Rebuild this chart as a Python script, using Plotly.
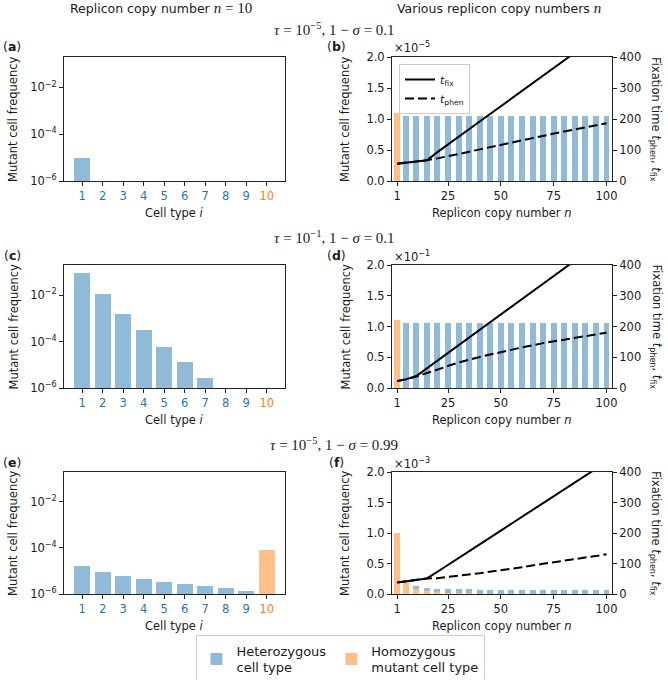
import plotly.graph_objects as go

# ---------------- data ----------------
cell_types = [1, 2, 3, 4, 5, 6, 7, 8, 9, 10]
cell_labels = ["1", "2", "3", "4", "5", "6", "7", "8", "9", "10"]

# left column: mutant cell frequency per cell type (n = 10)
freq_a = [1.0e-5, 1.0e-10, 1.0e-15, 1.0e-20, 1.0e-25, 1.0e-30, 1.0e-35, 1.0e-40, 1.0e-45, 1.0e-50]
freq_c = [9.1e-2, 1.18e-2, 1.6e-3, 3.1e-4, 5.7e-5, 1.3e-5, 2.7e-6, 5.0e-7, 8.0e-8, 1.0e-8]
freq_e = [1.65e-5, 9.3e-6, 5.8e-6, 4.4e-6, 3.4e-6, 2.8e-6, 2.3e-6, 1.9e-6, 1.35e-6, 8.5e-5]

# right column: bars vs replicon copy number n
n_bars = [1, 5, 10, 15, 20, 25, 30, 35, 40, 45, 50, 55, 60, 65, 70, 75, 80, 85, 90, 95, 100]
het_b = [0, 1.05e-5, 1.05e-5, 1.05e-5, 1.05e-5, 1.05e-5, 1.05e-5, 1.05e-5, 1.05e-5, 1.05e-5, 1.05e-5,
         1.05e-5, 1.05e-5, 1.05e-5, 1.05e-5, 1.05e-5, 1.05e-5, 1.05e-5, 1.05e-5, 1.05e-5, 1.05e-5]
hom_b = [1.10e-5, 0, 0, 0, 0, 0, 0, 0, 0, 0, 0, 0, 0, 0, 0, 0, 0, 0, 0, 0, 0]
het_d = [0, 0.105, 0.105, 0.105, 0.105, 0.105, 0.105, 0.105, 0.105, 0.105, 0.105,
         0.105, 0.105, 0.105, 0.105, 0.105, 0.105, 0.105, 0.105, 0.105, 0.105]
hom_d = [0.111, 0, 0, 0, 0, 0, 0, 0, 0, 0, 0, 0, 0, 0, 0, 0, 0, 0, 0, 0, 0]
het_f = [0, 0.0, 0.054e-3, 0.054e-3, 0.054e-3, 0.060e-3, 0.062e-3, 0.065e-3, 0.066e-3, 0.067e-3, 0.068e-3,
         0.068e-3, 0.069e-3, 0.069e-3, 0.070e-3, 0.070e-3, 0.070e-3, 0.070e-3, 0.070e-3, 0.070e-3, 0.070e-3]
hom_f = [1.0e-3, 0.20e-3, 0.082e-3, 0.049e-3, 0.033e-3, 0.022e-3, 0.015e-3, 0.010e-3, 0.007e-3, 0.005e-3, 0.004e-3,
         0.003e-3, 0.002e-3, 0.002e-3, 0.001e-3, 0.001e-3, 0.001e-3, 0.001e-3, 0.001e-3, 0.001e-3, 0.001e-3]

# fixation times
n_line = [1, 5, 10, 15, 20, 25, 30, 40, 50, 60, 70, 80, 90, 100]
tfix_b = [56, 59, 62, 67, 93, 117, 142, 192, 241, 290, 340, 389, 438, 488]
tphen_b = [56, 59, 62, 67, 73, 79, 87, 102, 117, 132, 146, 160, 173, 186]
tfix_d = [23, 28, 39, 64, 89, 114, 139, 189, 239, 289, 339, 389, 439, 489]
tphen_d = [23, 28, 37, 49, 61, 73, 83, 101, 117, 132, 146, 158, 169, 180]
tfix_f = [38, 42, 46, 51, 73, 96, 118, 163, 208, 253, 298, 343, 388, 433]
tphen_f = [38, 42, 46, 51, 52, 55, 60, 68, 77, 88, 99, 109, 119, 130]

scale_exp = [-5, -1, -3]
row_titles = ["<i>τ</i> = 10<sup>−5</sup>, 1 − <i>σ</i> = 0.1",
              "<i>τ</i> = 10<sup>−1</sup>, 1 − <i>σ</i> = 0.1",
              "<i>τ</i> = 10<sup>−5</sup>, 1 − <i>σ</i> = 0.99"]
panel_letters = [("a", "b"), ("c", "d"), ("e", "f")]

# ---------------- style ----------------
W, H = 668, 680
BLUE = "rgba(31,119,180,0.5)"
ORANGE = "rgba(255,127,14,0.5)"
TXT = "#1a1a1a"
SANS = "DejaVu Sans"
SERIF = "Liberation Serif"


def px(x):
    return x / W


def py(y):
    return 1 - y / H


LX = [px(64), px(285)]
RX = [px(392), px(612)]
rows_px = [(57, 181), (265, 388), (472, 594)]

fig = go.Figure()
layout = dict(width=W, height=H, margin=dict(l=0, r=0, t=0, b=0, autoexpand=False),
              paper_bgcolor="white", plot_bgcolor="white", barmode="stack",
              font=dict(family=SANS, size=11, color=TXT), annotations=[])

left_freqs = [freq_a, freq_c, freq_e]
right_bars = [(het_b, hom_b), (het_d, hom_d), (het_f, hom_f)]
right_lines = [(tfix_b, tphen_b), (tfix_d, tphen_d), (tfix_f, tphen_f)]
tick_colors = ["#1f77b4"] * 9 + ["#ff7f0e"]
cell_ticktext = ['<span style="color:%s">%s</span>' % (c, t) for c, t in zip(tick_colors, cell_labels)]

axis_common = dict(showline=True, linecolor="#222", linewidth=1, ticks="outside", ticklen=4,
                   tickcolor="#222", showgrid=False, zeroline=False,
                   tickfont=dict(family=SANS, size=11.5, color=TXT))


def note(text, x, y, size=11, family=SANS, angle=0, xanchor="center"):
    return dict(text=text, x=px(x), y=py(y), xref="paper", yref="paper", xanchor=xanchor, yanchor="middle",
                textangle=angle, showarrow=False, font=dict(family=family, size=size, color=TXT))


ann = layout["annotations"]
for r in range(3):
    top, bot = rows_px[r]
    ydom = [py(bot), py(top)]
    lx = "x" if r == 0 else "x%d" % (2 * r + 1)
    rx = "x%d" % (2 * r + 2)
    ly = "y" if r == 0 else "y%d" % (3 * r + 1)
    ry1 = "y%d" % (3 * r + 2)
    ry2 = "y%d" % (3 * r + 3)

    def key(a):
        return a[0] + "axis" + a[1:]

    # left panel
    freqs = left_freqs[r]
    fig.add_trace(go.Bar(x=cell_types[:9], y=freqs[:9], width=0.8, marker=dict(color=BLUE, line=dict(width=0)),
                         xaxis=lx, yaxis=ly, name="Heterozygous<br>cell type", legendgroup="het",
                         showlegend=(r == 0), legendrank=1))
    fig.add_trace(go.Bar(x=cell_types[9:], y=freqs[9:], width=0.8, marker=dict(color=ORANGE, line=dict(width=0)),
                         xaxis=lx, yaxis=ly, name="Homozygous<br>mutant cell type", legendgroup="hom",
                         showlegend=(r == 0), legendrank=2))
    layout[key(lx)] = dict(axis_common, domain=LX, anchor=ly, range=[0.11, 10.89], mirror=True,
                           tickvals=cell_types, ticktext=cell_ticktext)
    layout[key(ly)] = dict(axis_common, domain=ydom, anchor=lx, type="log", range=[-6, -0.7], mirror=True,
                           tickvals=[1e-6, 1e-4, 1e-2],
                           ticktext=["10<sup>−6</sup>", "10<sup>−4</sup>", "10<sup>−2</sup>"])

    # right panel
    sc = 10.0 ** scale_exp[r]
    het, hom = right_bars[r]
    fig.add_trace(go.Bar(x=n_bars, y=[v / sc for v in hom], width=2.8, marker=dict(color=ORANGE, line=dict(width=0)),
                         xaxis=rx, yaxis=ry1, showlegend=False, legendgroup="hom"))
    fig.add_trace(go.Bar(x=n_bars, y=[v / sc for v in het], width=2.8, marker=dict(color=BLUE, line=dict(width=0)),
                         xaxis=rx, yaxis=ry1, showlegend=False, legendgroup="het"))
    tfix, tphen = right_lines[r]
    fig.add_trace(go.Scatter(x=n_line, y=tfix, mode="lines", line=dict(color="black", width=2),
                             xaxis=rx, yaxis=ry2, name="<i>t</i><sub>fix</sub>", legend="legend2",
                             showlegend=(r == 0)))
    fig.add_trace(go.Scatter(x=n_line, y=tphen, mode="lines", line=dict(color="black", width=2, dash="9px,4px"),
                             xaxis=rx, yaxis=ry2, name="<i>t</i><sub>phen</sub>", legend="legend2",
                             showlegend=(r == 0)))
    layout[key(rx)] = dict(axis_common, domain=RX, anchor=ry1, range=[-1.5, 102.6], mirror=True,
                           tickvals=[1, 25, 50, 75, 100])
    layout[key(ry1)] = dict(axis_common, domain=ydom, anchor=rx, range=[0, 2.0],
                            tickvals=[0, 0.5, 1.0, 1.5, 2.0], ticktext=["0.0", "0.5", "1.0", "1.5", "2.0"])
    layout[key(ry2)] = dict(axis_common, anchor=rx, overlaying=ry1, side="right", range=[0, 400],
                            tickvals=[0, 100, 200, 300, 400])

    ymid = (top + bot) / 2
    ann.append(note(row_titles[r], 334, top - 28, size=15, family=SERIF))
    ann.append(note("(<b>%s</b>)" % panel_letters[r][0], 12, top - 10, size=12.5))
    ann.append(note("(<b>%s</b>)" % panel_letters[r][1], 337, top - 10, size=12.5))
    ann.append(note("Mutant cell frequency", 13, ymid, size=11.5, angle=-90))
    ann.append(note("Mutant cell frequency", 345, ymid, size=11.5, angle=-90))
    ann.append(note("Fixation time <i>t</i><sub>phen</sub>, <i>t</i><sub>fix</sub>", 656, ymid, size=11.5, angle=90))
    ann.append(note("Cell type <i>i</i>", 174.5, bot + 32, size=11.5))
    ann.append(note("Replicon copy number <i>n</i>", 502, bot + 32, size=11.5))
    ann.append(note("×10<sup>−%d</sup>" % (-scale_exp[r]), 392, top - 9, size=11.5, xanchor="left"))

ann.append(note('Replicon copy number <span style="font-family:Liberation Serif;font-size:15px"><i>n</i> = 10</span>',
                161, 8, size=12.5))
ann.append(note('Various replicon copy numbers <span style="font-family:Liberation Serif;font-size:15px"><i>n</i></span>',
                499, 8, size=12.5))

layout["legend"] = dict(orientation="h", x=px(340), xanchor="center", y=py(659), yanchor="middle",
                        bordercolor="#cccccc", borderwidth=1, bgcolor="white",
                        font=dict(family=SANS, size=13, color=TXT), traceorder="normal")
layout["legend2"] = dict(x=px(399), y=py(64), xanchor="left", yanchor="top", bordercolor="#cccccc",
                         borderwidth=1, bgcolor="rgba(255,255,255,0.8)",
                         font=dict(family=SANS, size=11, color=TXT), tracegroupgap=0)

fig.update_layout(**layout)
fig.write_html("out.html", config={"displayModeBar": False},
               post_script="document.body.style.margin='0';document.body.style.overflow='hidden';")
